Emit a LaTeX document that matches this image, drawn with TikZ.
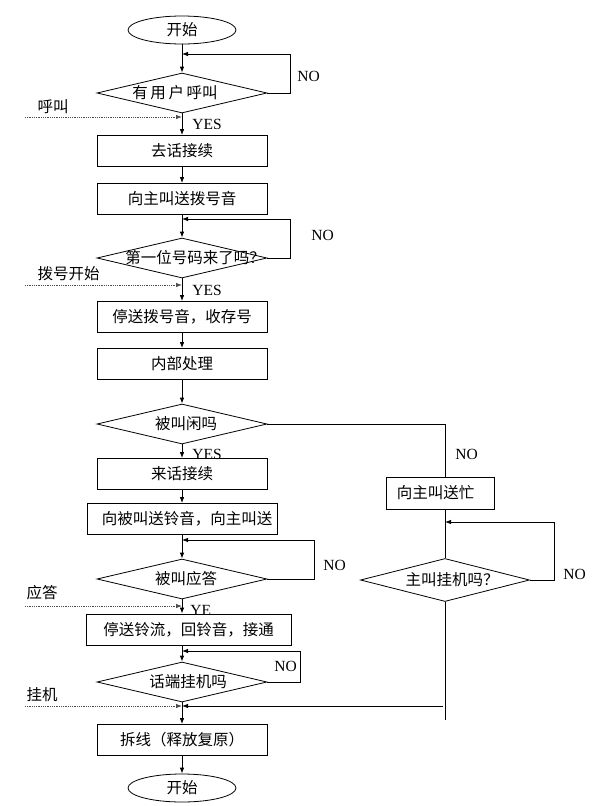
\documentclass[tikz,border=0pt]{standalone}
\usepackage{fontspec}
\newfontfamily\cjk{Noto Sans CJK SC}
\newfontfamily\tnr{Liberation Serif}
\usetikzlibrary{shapes.geometric,arrows.meta}
\begin{document}
\begin{tikzpicture}[x=1pt,y=-1pt,line width=0.8pt,
  every node/.style={font=\cjk\fontsize{15.5}{17}\selectfont},
  proc/.style={draw,fill=white,minimum width=170pt,minimum height=31pt,inner sep=0pt},
  dec/.style={draw,diamond,fill=white,minimum width=170pt,minimum height=40pt,inner sep=0pt},
  term/.style={draw,ellipse,minimum width=108pt,minimum height=28pt,inner sep=0pt},
  lat/.style={font=\tnr\fontsize{15.5}{17}\selectfont,inner sep=0pt},
  arr/.style={-{Latex[length=6pt,width=4.5pt]}},
  dotarr/.style={densely dotted,gray!60!black,-{Latex[length=6pt,width=4.5pt]}}]
\useasboundingbox (0,0) rectangle (594,806);

% main column
\node[term] (start) at (182,30) {开始};
\node[dec] (d1) at (182,93) {};
\node (t1) at (175,93) {有\,用\,户\,呼叫};
\node[proc] (b1) at (182,151) {去话接续};
\node[proc] (b2) at (182,199) {向主叫送拨号音};
\node[dec] (d2) at (182,258) {};
\node (t2) at (195,258) {第一位号码来了吗？};
\node[proc] (b3) at (182,317) {停送拨号音，收存号};
\node[proc] (b4) at (182,364) {内部处理};
\node[dec] (d3) at (182,424) {};
\node (t3) at (186,424) {被叫闲吗};
\node[proc] (b5) at (182,474) {来话接续};
\node[proc,minimum width=190pt] (b6) at (182,519) {\hspace*{10pt}向被叫送铃音，向主叫送};
\node[dec] (d4) at (182,579) {};
\node (t4) at (186,579) {被叫应答};
\node[lat,anchor=west] (ye) at (190,610) {YE};
\node[proc,minimum width=205pt] (b7) at (188.5,629.5) {停送铃流，回铃音，接通};
\node[dec] (d5) at (182,682) {};
\node (t5) at (188,682) {话端挂机吗};
\node[proc] (b8) at (182,740) {拆线（释放复原）};
\node[term] (end) at (182,788) {开始};

% right column
\node[proc,minimum width=108pt,minimum height=32pt] (rb) at (440,493) {};
\node (trb) at (435.5,493) {向主叫送忙};
\node[dec,minimum width=169pt,minimum height=43pt] (d6) at (445,580) {};
\node (t6) at (452,580) {主叫挂机吗？};

% main flow
\draw[arr] (start) -- (d1);
\draw[arr] (d1) -- (b1);
\draw[arr] (b1) -- (b2);
\draw[arr] (b2) -- (d2);
\draw[arr] (d2) -- (b3);
\draw[arr] (b3) -- (b4);
\draw[arr] (b4) -- (d3);
\draw[arr] (d3) -- (b5);
\draw[arr] (b5) -- (b6);
\draw[arr] (b6) -- (d4);
\draw[arr] (d4.south) -- (d4.south |- b7.north);
\draw[arr] (d5.north |- b7.south) -- (d5.north);
\draw[arr] (d5) -- (b8);
\draw[arr] (b8) -- (end);

% NO loops
\coordinate (l1) at (290,54);
\draw[arr] (d1.east) -| (l1) -- (start.south |- l1);
\coordinate (l2) at (290,219);
\draw[arr] (d2.east) -| (l2) -- (b2.south |- l2);
\coordinate (l4) at (314,540);
\draw[arr] (d4.east) -| (l4) -- (d4.north |- l4);
\coordinate (l5) at (300,651);
\draw[arr] (d5.east) -| (l5) -- (d5.north |- l5);

% right branch
\coordinate (rc) at (445,424);
\draw (d3.east) -- (rc) -- (rc |- rb.north);
\draw (rc |- rb.south) -- (d6.north);
\coordinate (l6) at (554,522);
\draw[arr] (d6.east) -| (l6) -- (rc |- l6);
\coordinate (rbot) at (445,720);
\draw (d6.south) -- (rbot);
\coordinate (ret) at (443,706);
\draw[arr] (ret) -- (d5.south |- ret);

% external inputs
\coordinate (in1) at (25,117);
\draw[dotarr] (in1) -- (in1 -| d1.south);
\node[anchor=west] (a1) at (34,107) {呼叫};
\coordinate (in2) at (25,285);
\draw[dotarr] (in2) -- (in2 -| d2.south);
\node[anchor=west] (a2) at (34,274) {拨号开始};
\coordinate (in3) at (25,606);
\draw[dotarr] (in3) -- (in3 -| d4.south);
\node[anchor=west] (a3) at (23,593) {应答};
\coordinate (in4) at (25,706);
\draw[dotarr] (in4) -- (in4 -| d5.south);
\node[anchor=west] (a4) at (23,695) {挂机};

% labels
\node[lat,anchor=west] (y1) at (192,124) {YES};
\node[lat,anchor=west] (y2) at (192,290) {YES};
\node[lat,anchor=west] (y3) at (192,454) {YES};
\node[lat,anchor=west] (n1) at (297,76) {NO};
\node[lat,anchor=west] (n2) at (311,235) {NO};
\node[lat,anchor=west] (n3) at (455,454) {NO};
\node[lat,anchor=west] (n4) at (323,565) {NO};
\node[lat,anchor=west] (n5) at (274,666) {NO};
\node[lat,anchor=west] (n6) at (563,574) {NO};
\end{tikzpicture}
\end{document}
